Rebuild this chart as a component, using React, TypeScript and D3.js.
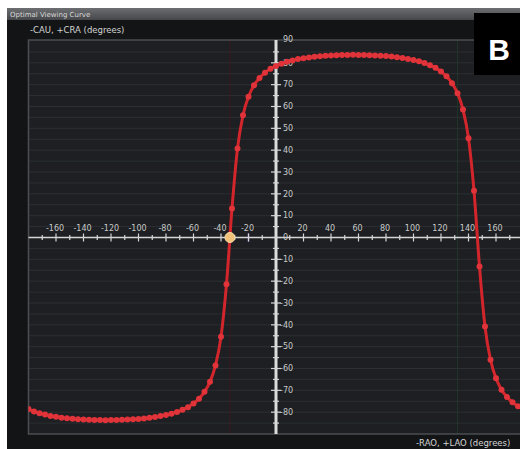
import React from "react";
import * as d3 from "d3";

// Gantry rotation (-RAO / +LAO) and angulation (-CAU / +CRA), degrees
const rotation = [
  -180, -176, -172, -168, -164, -160, -156, -152, -148, -144, -140, -136, -132, -128, -124, -120,
  -116, -112, -108, -104, -100, -96, -92, -88, -84, -80, -76, -72, -68, -64, -60, -56, -52, -48,
  -44, -40, -36, -32, -28, -24, -20, -16, -12, -8, -4, 0, 4, 8, 12, 16, 20, 24, 28, 32, 36, 40,
  44, 48, 52, 56, 60, 64, 68, 72, 76, 80, 84, 88, 92, 96, 100, 104, 108, 112, 116, 120, 124, 128,
  132, 136, 140, 144, 148, 152, 156, 160, 164, 168, 172, 176, 180,
];
const angulation = [
  -78.6, -79.7, -80.5, -81.1, -81.7, -82.1, -82.5, -82.8, -83.0, -83.2, -83.4, -83.5, -83.6, -83.6,
  -83.7, -83.6, -83.6, -83.5, -83.4, -83.3, -83.1, -82.9, -82.6, -82.2, -81.8, -81.3, -80.7, -79.9,
  -78.9, -77.7, -76.0, -73.8, -70.7, -66.1, -58.6, -45.5, -21.4, 13.3, 40.8, 56.0, 64.5, 69.7,
  73.1, 75.5, 77.3, 78.6, 79.6, 80.5, 81.1, 81.7, 82.1, 82.5, 82.8, 83.0, 83.2, 83.4, 83.5, 83.6,
  83.6, 83.7, 83.6, 83.6, 83.5, 83.4, 83.3, 83.1, 82.9, 82.6, 82.2, 81.8, 81.3, 80.7, 79.9, 78.9,
  77.7, 76.0, 73.8, 70.7, 66.1, 58.6, 45.5, 21.4, -13.3, -40.8, -56.0, -64.5, -69.7, -73.1, -75.5,
  -77.3, -78.6,
];
// Current gantry position
const selected = { rotation: -33.5, angulation: 0 };

const xTickLabels = [-160, -140, -120, -100, -80, -60, -40, -20, 20, 40, 60, 80, 100, 120, 140, 160];
const yTickLabels = [90, 80, 70, 60, 50, 40, 30, 20, 10, 0, -10, -20, -30, -40, -50, -60, -70, -80];

const W = 520;
const H = 449;
const plot = { left: 28.5, top: 40, bottom: 434 };

export default function App() {
  const x = d3.scaleLinear().domain([-180, 180]).range([28.5, 523.5]);
  const y = d3.scaleLinear().domain([-90, 90]).range([434, 41]);

  const pts = rotation.map((r, i) => [r, angulation[i]] as [number, number]);
  const line = d3
    .line<[number, number]>()
    .x((d) => x(d[0]))
    .y((d) => y(d[1]))
    .curve(d3.curveMonotoneX);

  const gridY = d3.range(-85, 90, 5);
  const minorX = d3.range(-170, 180, 10);
  const minorY = d3.range(-85, 90, 5);
  const font = "'DejaVu Sans', 'Liberation Sans', sans-serif";

  return (
    <svg
      width={W}
      height={H}
      style={{ position: "absolute", left: 0, top: 0, background: "#ffffff" }}
      fontFamily={font}
    >
      <defs>
        <linearGradient id="titleBar" x1="0" y1="0" x2="0" y2="1">
          <stop offset="0" stopColor="#6c6e71" />
          <stop offset="1" stopColor="#45474a" />
        </linearGradient>
        <clipPath id="plotClip">
          <rect x={plot.left} y={plot.top} width={W - plot.left} height={plot.bottom - plot.top} />
        </clipPath>
      </defs>

      {/* window frame */}
      <rect x={7} y={8} width={W - 7} height={H - 8} fill="#131416" />
      <rect x={7} y={8} width={W - 7} height={12} fill="url(#titleBar)" />
      <text x={10} y={17} fontSize={7} fill="#d8d8d8">
        Optimal Viewing Curve
      </text>

      {/* plot area */}
      <rect x={plot.left} y={plot.top} width={W - plot.left} height={plot.bottom - plot.top} fill="#1d1f22" />
      <g clipPath="url(#plotClip)">
        {gridY.map((v) => (
          <line key={v} x1={plot.left} x2={W} y1={y(v)} y2={y(v)} stroke="#2c2f33" strokeWidth={1} />
        ))}
        {/* reference lines */}
        <line x1={x(-33.5)} x2={x(-33.5)} y1={plot.top} y2={plot.bottom} stroke="#4a1a1e" strokeWidth={1} opacity={0.7} />
        <line x1={x(132)} x2={x(132)} y1={plot.top} y2={plot.bottom} stroke="#1f3a2a" strokeWidth={1} opacity={0.8} />
        <line x1={x(-20)} x2={x(-20)} y1={y(2)} y2={y(-2)} stroke="#7a5cc0" strokeWidth={1.5} />
      </g>
      <rect
        x={plot.left}
        y={plot.top}
        width={W - plot.left + 2}
        height={plot.bottom - plot.top}
        fill="none"
        stroke="#4b4e52"
        strokeWidth={1.5}
      />

      {/* horizontal axis */}
      <line x1={plot.left} x2={W} y1={y(0)} y2={y(0)} stroke="#d6d6d6" strokeWidth={1.6} />
      {minorX.map((v) => (
        <line
          key={v}
          x1={x(v)}
          x2={x(v)}
          y1={y(0) - (v % 20 === 0 ? 4 : 2.5)}
          y2={y(0) + (v % 20 === 0 ? 4 : 2.5)}
          stroke="#d6d6d6"
          strokeWidth={1.2}
        />
      ))}
      {xTickLabels.map((v) => (
        <text key={v} x={x(v) - 1} y={y(0) - 7} fontSize={8} fill="#c9c9c9" textAnchor="middle">
          {v}
        </text>
      ))}

      {/* vertical axis */}
      <line x1={x(0)} x2={x(0)} y1={plot.top} y2={plot.bottom} stroke="#dcdcdc" strokeWidth={3} />
      {minorY.map((v) => (
        <line
          key={v}
          x1={x(0) - (v % 10 === 0 ? 5 : 3)}
          x2={x(0) + (v % 10 === 0 ? 5 : 3)}
          y1={y(v)}
          y2={y(v)}
          stroke="#d6d6d6"
          strokeWidth={1.2}
        />
      ))}
      {yTickLabels.map((v) => (
        <text
          key={v}
          x={x(0) + (v < 0 ? 4 : 7)}
          y={y(v) - (v === 90 ? 2 : 0)}
          dy="0.35em"
          fontSize={8}
          fill="#c9c9c9"
        >
          {v}
        </text>
      ))}

      {/* viewing curve */}
      <g clipPath="url(#plotClip)">
        <path d={line(pts) ?? ""} fill="none" stroke="#d3262c" strokeWidth={3} strokeLinejoin="round" />
        {pts.map((d, i) => (
          <circle key={i} cx={x(d[0])} cy={y(d[1])} r={3} fill="#e0343a" />
        ))}
        <circle
          cx={x(selected.rotation)}
          cy={y(selected.angulation)}
          r={5}
          fill="#f1c37a"
          stroke="#f8dca8"
          strokeWidth={1}
        />
      </g>

      {/* axis titles */}
      <text x={30} y={33} fontSize={8.5} fill="#d4d4d4">
        -CAU, +CRA (degrees)
      </text>
      <text x={416} y={446} fontSize={8.5} fill="#d4d4d4">
        -RAO, +LAO (degrees)
      </text>

      {/* panel label */}
      <rect x={474} y={13} width={W - 474} height={62} fill="#000000" />
      <text x={499} y={60} fontSize={30} fontWeight="bold" fill="#ffffff" textAnchor="middle" fontFamily="'Liberation Sans', Arial, sans-serif">
        B
      </text>
    </svg>
  );
}
